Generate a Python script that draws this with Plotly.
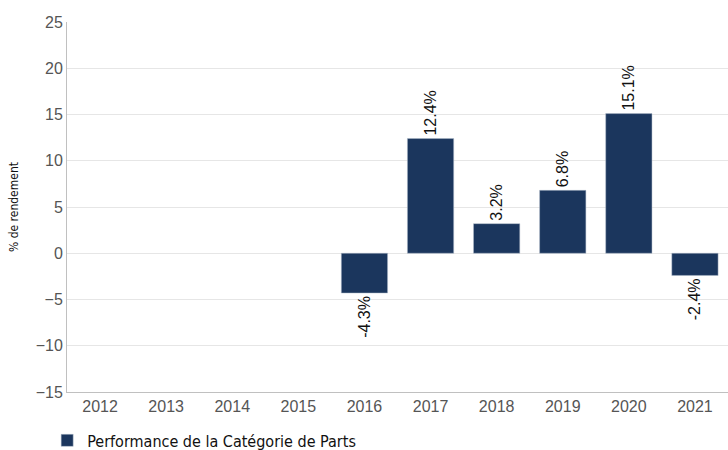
import plotly.graph_objects as go

years = ["2012", "2013", "2014", "2015", "2016", "2017", "2018", "2019", "2020", "2021"]
returns = [None, None, None, None, -4.3, 12.4, 3.2, 6.8, 15.1, -2.4]
labels = ["" if v is None else f"{v:.1f}%" for v in returns]
y_ticks = [-15, -10, -5, 0, 5, 10, 15, 20, 25]

fig = go.Figure()
fig.add_trace(go.Bar(
    x=years, y=returns, text=labels,
    name="Performance de la Catégorie de Parts",
    marker=dict(color="#1b365d", line=dict(color="#b0bccb", width=0.5)),
    textposition="outside", textangle=-90,
    textfont=dict(family="Arial, Liberation Sans", size=16, color="#111111"),
    cliponaxis=False, width=0.7,
))

fig.update_layout(
    width=728, height=450,
    margin=dict(l=67, r=0, t=22, b=58, autoexpand=False),
    plot_bgcolor="white", paper_bgcolor="white",
    showlegend=True,
    legend=dict(orientation="h", x=-0.03, y=-0.085, xanchor="left", yanchor="top",
                font=dict(family="DejaVu Sans Condensed, sans-serif", size=16, color="#111111")),
    yaxis=dict(range=[-15, 25], tickvals=y_ticks, showgrid=True, gridcolor="#e6e6e6",
               zeroline=True, zerolinecolor="#e6e6e6", zerolinewidth=1,
               showline=True, linecolor="#c0c0c0", linewidth=1, automargin=False,
               tickfont=dict(family="Arial, Liberation Sans", size=16, color="#555555"),
               title=dict(text="% de rendement", standoff=14,
                          font=dict(family="DejaVu Sans Condensed, sans-serif", size=12, color="#111111"))),
    xaxis=dict(showline=True, linecolor="#c0c0c0", linewidth=1, showgrid=False, automargin=False,
               tickfont=dict(family="Arial, Liberation Sans", size=16, color="#555555")),
    bargap=0.3,
)

fig.write_html("out.html", config={"displayModeBar": False},
               post_script="document.body.style.margin='0';")
